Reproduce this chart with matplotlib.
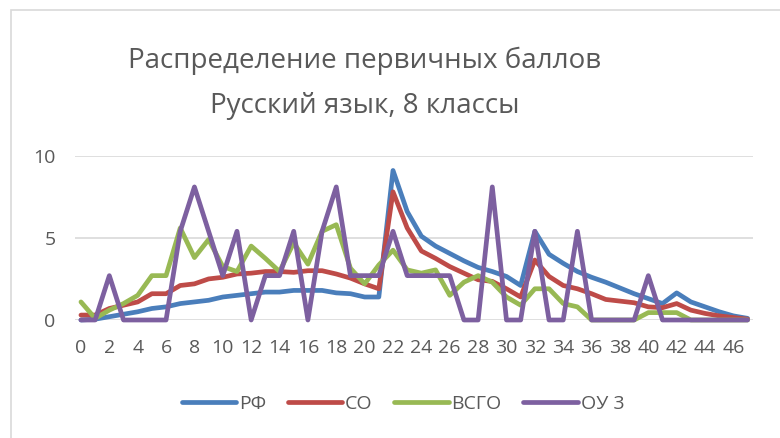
import matplotlib
matplotlib.use("Agg")
import matplotlib.pyplot as plt
from matplotlib.patches import Rectangle

plt.rcParams['font.family'] = ['Open Sans', 'DejaVu Sans']

scores = list(range(48))
tick_labels = [str(v) for v in range(0, 47, 2)]

rf = [0, 0.05, 0.2, 0.35, 0.5, 0.7, 0.8, 1.0, 1.1, 1.2, 1.4, 1.5, 1.6, 1.7, 1.7, 1.8,
      1.8, 1.8, 1.65, 1.6, 1.4, 1.4, 9.1, 6.6, 5.1, 4.5, 4.05, 3.6, 3.2, 2.95, 2.65, 2.1,
      5.4, 4.0, 3.45, 2.95, 2.6, 2.3, 1.95, 1.6, 1.3, 1.0, 1.65, 1.1, 0.8, 0.5, 0.25, 0.1]
so = [0.3, 0.3, 0.7, 0.9, 1.1, 1.6, 1.6, 2.1, 2.2, 2.5, 2.6, 2.8, 2.85, 2.95, 2.95, 2.9,
      3.0, 3.0, 2.8, 2.55, 2.2, 1.9, 7.8, 5.6, 4.2, 3.75, 3.25, 2.85, 2.45, 2.35, 1.9, 1.4,
      3.65, 2.65, 2.1, 1.9, 1.6, 1.25, 1.15, 1.05, 0.8, 0.75, 1.0, 0.6, 0.4, 0.25, 0.15, 0.05]
vsgo = [1.1, 0.1, 0.6, 1.0, 1.5, 2.7, 2.7, 5.6, 3.8, 4.9, 3.25, 2.95, 4.5, 3.75, 2.95, 4.7,
        3.4, 5.4, 5.8, 3.15, 2.2, 3.35, 4.25, 3.05, 2.85, 3.05, 1.5, 2.3, 2.7, 2.3, 1.4, 0.9,
        1.9, 1.9, 1.0, 0.8, 0, 0, 0, 0, 0.45, 0.45, 0.45, 0, 0, 0, 0, 0]
ou3 = [0, 0, 2.7, 0, 0, 0, 0, 5.4, 8.1, 5.4, 2.7, 5.4, 0, 2.7, 2.7, 5.4,
       0, 5.4, 8.1, 2.7, 2.7, 2.7, 5.4, 2.7, 2.7, 2.7, 2.7, 0, 0, 8.1, 0, 0,
       5.4, 0, 0, 5.4, 0, 0, 0, 0, 2.7, 0, 0, 0, 0, 0, 0, 0]

names = ["РФ", "СО", "ВСГО", "ОУ 3"]
colors = ["#4A7EBB", "#BE4B48", "#98B954", "#7D60A0"]
text_color = "#595959"

fig = plt.figure(figsize=(7.8, 4.38), dpi=100)
ax = fig.add_axes([75 / 780, 1 - 320 / 438, (753 - 75) / 780, (320 - 155.7) / 438])

for vals, name, col in zip([rf, so, vsgo, ou3], names, colors):
    ax.plot(scores, vals, color=col, lw=3.4, label=name, clip_on=False,
            solid_joinstyle='round', solid_capstyle='round')

ax.set_xlim(-0.42, 47.38)
ax.set_ylim(0, 10)
ax.set_yticks([0, 5, 10])
ax.set_xticks(range(0, 47, 2))
ax.set_xticklabels(tick_labels)
ax.grid(axis='y', color='#D9D9D9', lw=1.2)
ax.set_axisbelow(True)
for s in ax.spines.values():
    s.set_visible(False)
ax.tick_params(axis='x', length=0, pad=14, labelsize=14, labelcolor=text_color)
ax.tick_params(axis='y', length=0, pad=14, labelsize=14, labelcolor=text_color)

fig.text(365 / 780, 1 - 83 / 438, "Распределение первичных баллов\nРусский язык, 8 классы",
         ha='center', va='center', fontsize=20, color=text_color, linespacing=1.8)

fig.legend(loc='center', bbox_to_anchor=(403 / 780, 1 - 404 / 438), ncol=4, frameon=False,
           fontsize=14, handlelength=2.8, handletextpad=0.15, columnspacing=1.1,
           labelcolor=text_color)

fig.patches.append(Rectangle((11 / 780, -0.05), 1.1, 1.05 - 10 / 438, transform=fig.transFigure,
                             fill=False, edgecolor='#D9D9D9', lw=1.2))

fig.savefig("out.png", dpi=100)
